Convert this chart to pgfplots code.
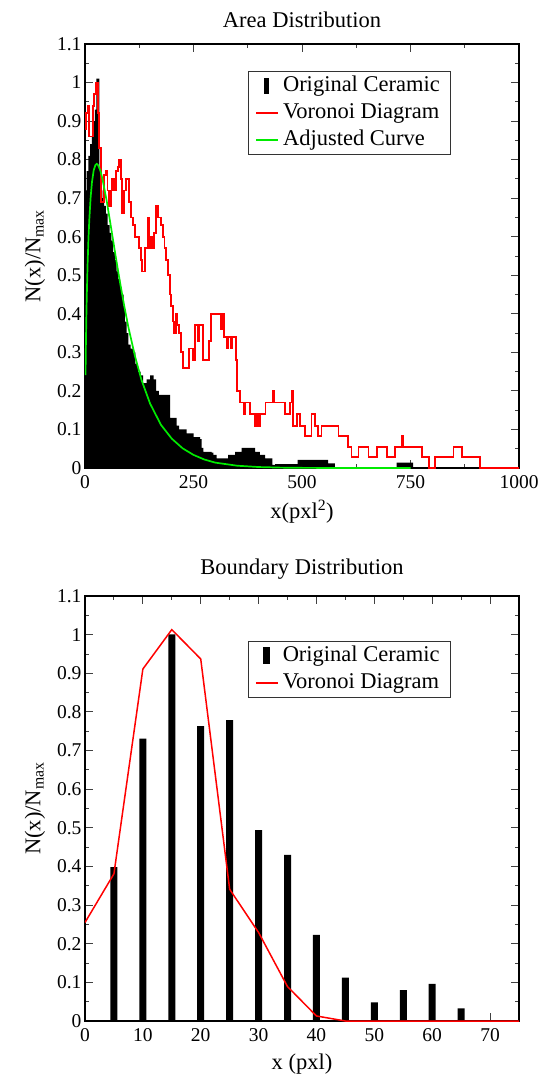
\documentclass[border=0pt]{standalone}
\usepackage{pgfplots}
\pgfplotsset{compat=1.18}
\usepackage{fontspec}
\setmainfont{Liberation Serif}
\definecolor{gcurve}{RGB}{0,235,0}
\newcommand{\bigf}{\fontsize{22.5}{26}\selectfont}
\newcommand{\tickf}{\fontsize{19.5}{22}\selectfont}
\pgfplotsset{
  gracestyle/.style={
    scale only axis, width=434pt,
    tick align=inside, tick pos=both,
    xticklabel pos=left, yticklabel pos=left,
    major tick length=8pt, minor tick length=4pt,
    minor x tick num=1, minor y tick num=1,
    every tick/.style={black!75, line width=0.9pt},
    axis line style={line width=1.3pt},
    tick label style={font=\tickf},
    xticklabel style={yshift=-4pt},
    label style={font=\bigf},
    xlabel style={yshift=-5pt},
    ylabel style={yshift=5pt},
    title style={font=\bigf, yshift=7pt},
    ymin=0, ymax=1.1,
    ytick={0,0.1,0.2,0.3,0.4,0.5,0.6,0.7,0.8,0.9,1,1.1},
    yticklabels={0,0.1,0.2,0.3,0.4,0.5,0.6,0.7,0.8,0.9,1,1.1},
    ylabel={N(x)/N\textsubscript{max}},
    legend cell align=left,
    legend style={font=\bigf, draw=black!80, line width=0.8pt, anchor=north west,
      inner xsep=7pt, inner ysep=4pt, row sep=6pt,
      nodes={inner xsep=4pt, inner ysep=1pt, text height=15pt, text depth=4pt}},
  },
}
\begin{document}
\begin{tikzpicture}
\begin{axis}[gracestyle, at={(0,0)}, anchor=north west, height=424pt,
  title={Area Distribution},
  xmin=0, xmax=1000, xtick={0,250,500,750,1000},
  xticklabels={0,250,500,750,1000},
  xlabel={x(pxl\textsuperscript{2})},
  legend style={at={(0.3756,0.936)}}]
\addplot[const plot, fill=black, draw=none,
  legend image code/.code={\fill[black] (10pt,-8pt) rectangle (15pt,8pt);}] table {
x y
0 0.72
4 0.77
8 0.81
12 0.84
16 0.86
19 0.90
23 0.93
26 1.01
33 0.78
36 0.72
40 0.70
44 0.68
48 0.66
52 0.63
57 0.61
61 0.59
65 0.56
69 0.54
73 0.51
77 0.49
81 0.47
85 0.45
89 0.42
92 0.38
96 0.35
100 0.32
105 0.31
111 0.30
116 0.27
122 0.25
128 0.24
134 0.22
142 0.23
150 0.24
158 0.23
164 0.20
170 0.19
196 0.13
211 0.11
217 0.10
234 0.09
250 0.08
265 0.075
269 0.052
273 0.042
292 0.04
296 0.034
303 0.025
330 0.034
346 0.042
361 0.052
392 0.042
403 0.034
415 0.025
432 0.008
438 0.010
490 0.021
560 0.012
576 0
718 0.014
756 0
1000 0
} \closedcycle;
\addlegendentry{Original Ceramic}
\addplot[const plot, color=red, line width=1.8pt,
  legend image code/.code={\draw[color=red, line width=1.6pt] (2pt,0pt) -- (24pt,0pt);}] table {
x y
0 0.88
3 0.92
6 0.94
9 0.86
18 0.94
21 0.97
25 1.0
30 0.92
33 0.83
37 0.69
43 0.76
48 0.77
52 0.72
56 0.68
60 0.72
63 0.75
67 0.72
71 0.77
76 0.78
79 0.80
83 0.75
85 0.66
89 0.72
94 0.75
102 0.69
106 0.65
111 0.63
115 0.60
125 0.57
129 0.54
132 0.51
139 0.57
144 0.65
148 0.57
152 0.60
155 0.57
159 0.61
164 0.68
169 0.65
175 0.63
179 0.60
183 0.57
187 0.54
191 0.50
195 0.45
199 0.42
202 0.38
205 0.35
209 0.40
213 0.37
217 0.35
221 0.30
225 0.26
240 0.31
248 0.28
254 0.37
259 0.33
263 0.37
272 0.28
285 0.33
290 0.40
313 0.36
317 0.40
320 0.34
326 0.31
330 0.34
336 0.31
339 0.34
348 0.28
351 0.20
358 0.17
366 0.14
370 0.17
381 0.14
392 0.11
396 0.14
399 0.11
404 0.14
416 0.17
432 0.20
436 0.17
461 0.14
472 0.17
477 0.20
479 0.11
488 0.14
495 0.11
507 0.083
522 0.14
530 0.11
537 0.083
545 0.11
584 0.083
606 0.055
614 0.028
630 0.055
653 0.028
672 0.055
695 0.028
714 0.055
731 0.083
734 0.055
776 0.028
793 0
806 0.028
849 0.055
868 0.028
910 0
1000 0.0001
};
\addlegendentry{Voronoi Diagram}
\addplot[color=gcurve, line width=1.7pt,
  legend image code/.code={\draw[color=gcurve, line width=1.6pt] (2pt,0pt) -- (24pt,0pt);}] table {
x y
1.2 0.241
2 0.314
3 0.385
4 0.441
6 0.530
8 0.596
10 0.646
13 0.702
16 0.741
20 0.772
24 0.786
27 0.789
30 0.786
35 0.773
40 0.751
50 0.693
60 0.624
70 0.554
80 0.486
90 0.423
100 0.365
115 0.291
130 0.229
150 0.167
175 0.112
200 0.076
225 0.051
250 0.034
275 0.022
300 0.014
350 0.006
400 0.0025
450 0.001
500 0.0004
600 0
750 0
};
\addlegendentry{Adjusted Curve}
\end{axis}

\begin{axis}[gracestyle, at={(0,-552pt)}, anchor=north west, height=425pt,
  title={Boundary Distribution},
  xmin=0, xmax=75, xtick={0,10,20,30,40,50,60,70},
  xticklabels={0,10,20,30,40,50,60,70},
  xlabel={x (pxl)},
  legend style={at={(0.375,0.894)}}]
\addplot[ybar, bar width=7pt, fill=black, draw=none,
  legend image code/.code={\fill[black] (9pt,-8pt) rectangle (16pt,9pt);}] table {
x y
5 0.398
10 0.731
15 1.001
20 0.763
25 0.779
30 0.494
35 0.430
40 0.223
45 0.112
50 0.048
55 0.080
60 0.096
65 0.033
};
\addlegendentry{Original Ceramic}
\addplot[color=red, line width=1.5pt,
  legend image code/.code={\draw[color=red, line width=1.6pt] (2pt,0pt) -- (24pt,0pt);}] table {
x y
0 0.255
5 0.381
10 0.911
15 1.013
20 0.937
25 0.341
30 0.229
35 0.089
40 0.013
45 0
75 0
};
\addlegendentry{Voronoi Diagram}
\end{axis}
\pgfresetboundingbox
\useasboundingbox (-85pt,44pt) rectangle (464pt,-1031pt);
\end{tikzpicture}
\end{document}
